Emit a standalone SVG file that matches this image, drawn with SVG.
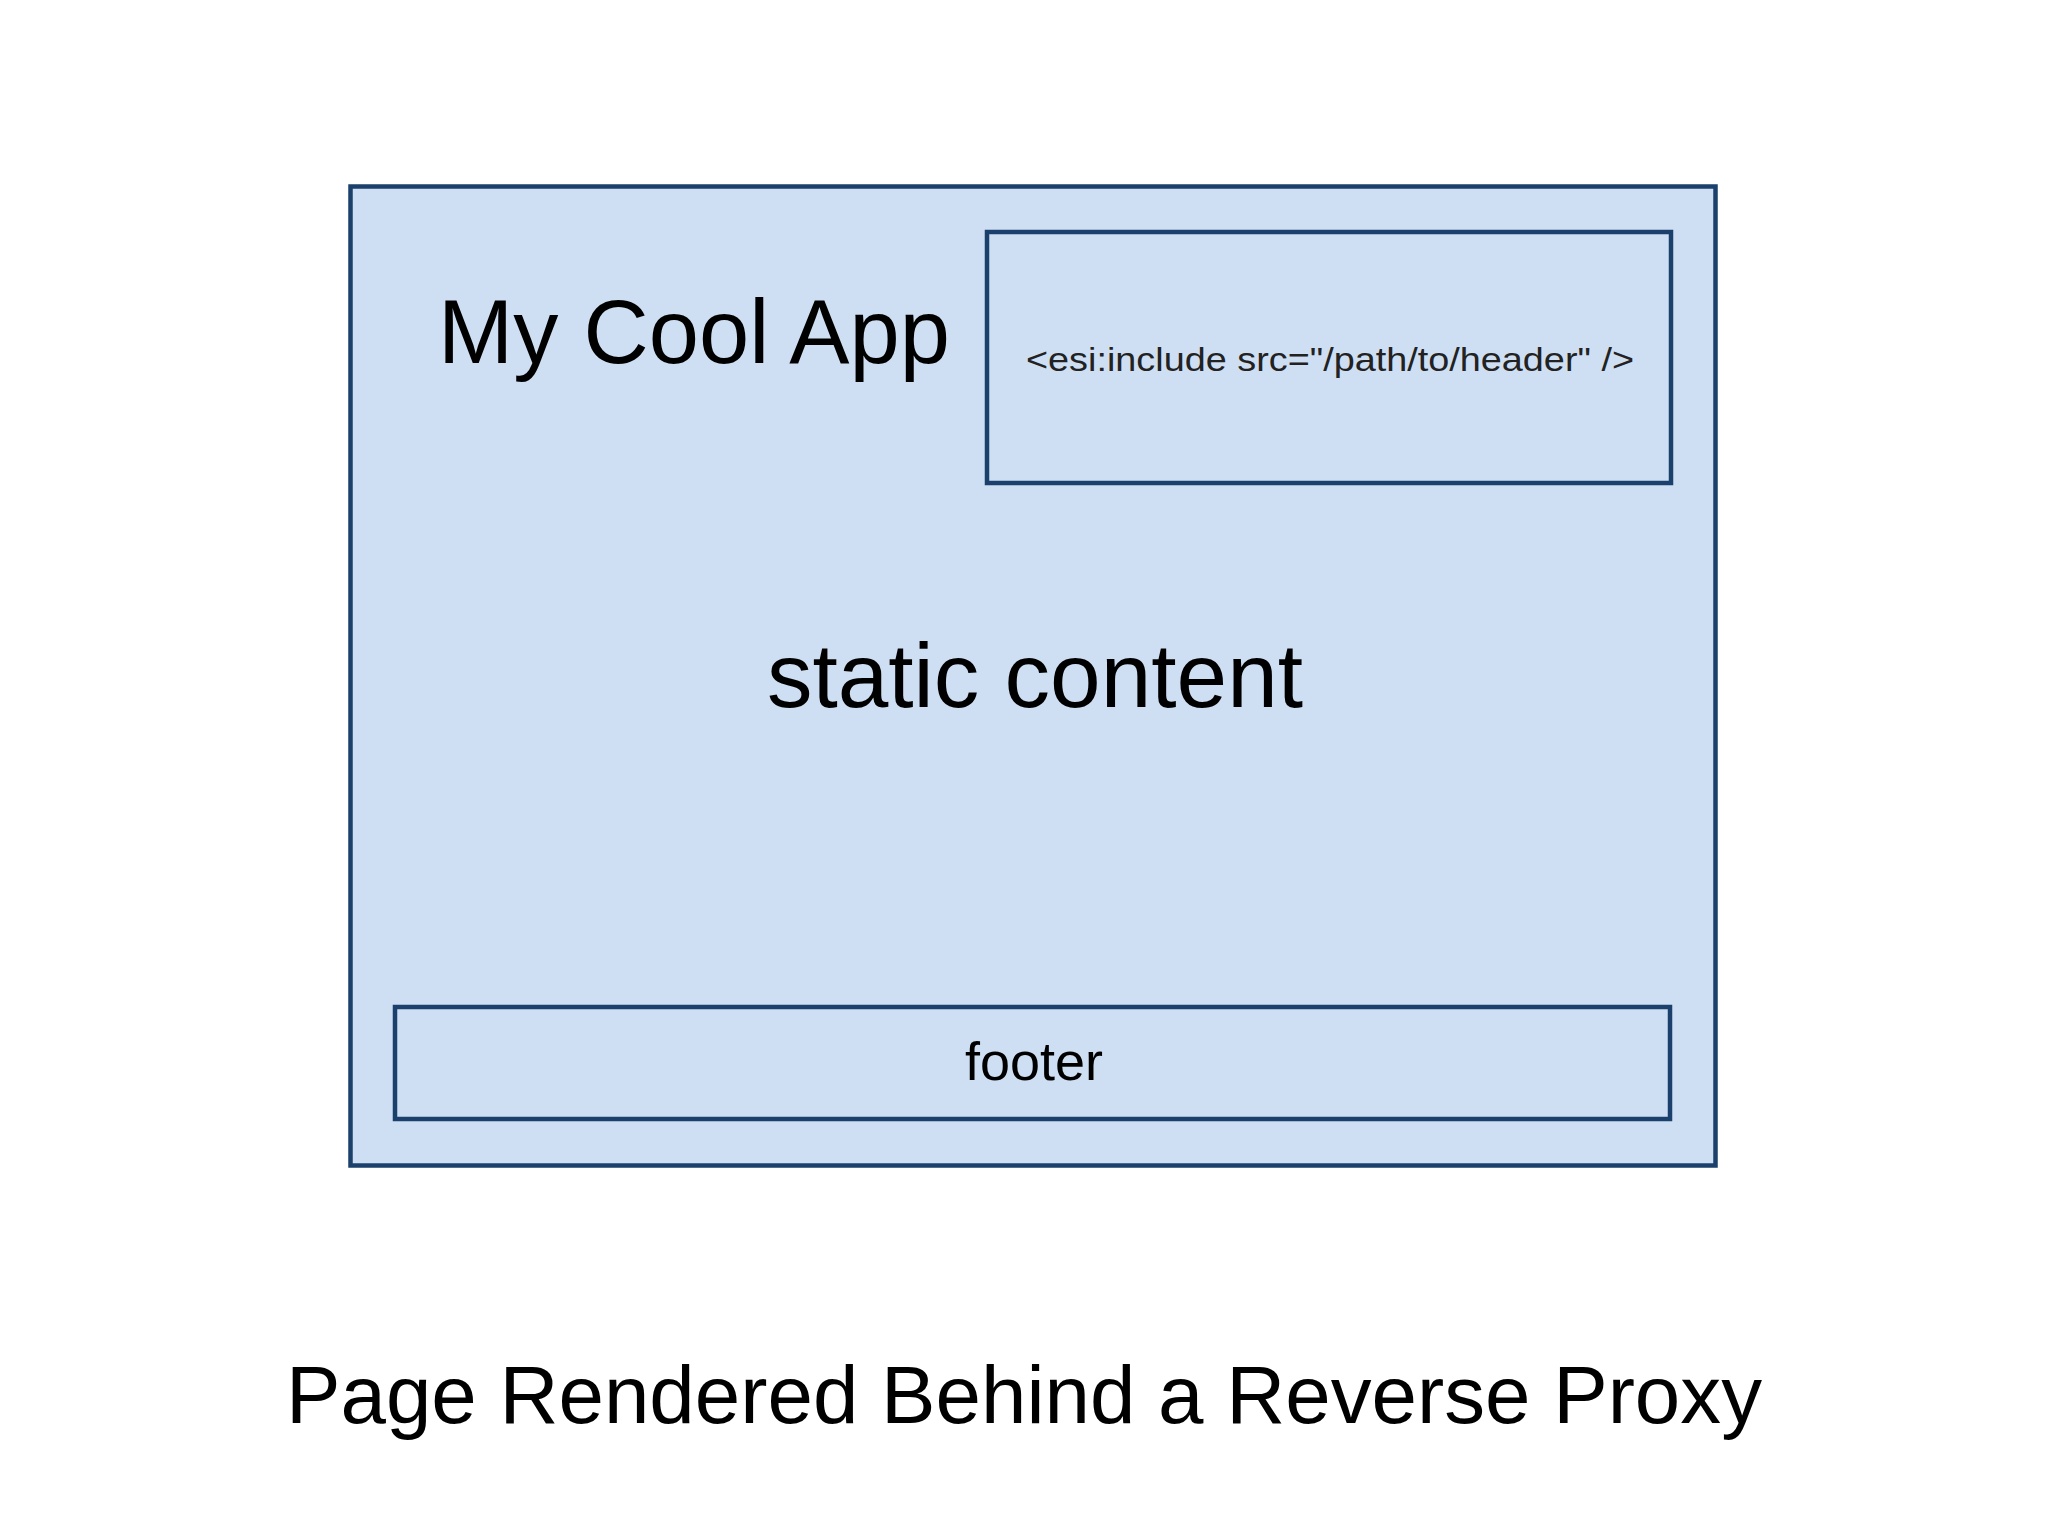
<svg xmlns="http://www.w3.org/2000/svg" width="2048" height="1536" viewBox="0 0 2048 1536">
<style>
.box{fill:#cfdff3;stroke:#1b406c;stroke-width:4.5}
.t{font-family:"Liberation Sans",Arial,sans-serif;fill:#000}
</style>
<rect width="2048" height="1536" fill="#ffffff"/>
<g id="page">
<rect class="box" x="350.5" y="186.5" width="1365" height="979" stroke-width="5"/>
<text class="t" x="438" y="363" font-size="91" textLength="512" lengthAdjust="spacingAndGlyphs">My Cool App</text>
<text class="t" x="767" y="707" font-size="90" textLength="536" lengthAdjust="spacingAndGlyphs">static content</text>
</g>
<g id="header">
<rect class="box" x="987" y="232" width="684" height="251"/>
<text class="t" x="1026" y="371" font-size="33" textLength="608" lengthAdjust="spacingAndGlyphs" style="fill:#222">&lt;esi:include src="/path/to/header" /&gt;</text>
</g>
<g id="footer">
<rect class="box" x="395" y="1007" width="1275" height="112"/>
<text class="t" x="965" y="1080" font-size="53" textLength="138" lengthAdjust="spacingAndGlyphs">footer</text>
</g>
<g id="connectors"/>
<g id="caption">
<text class="t" x="1024" y="1423" font-size="82" text-anchor="middle" textLength="1476" lengthAdjust="spacingAndGlyphs">Page Rendered Behind a Reverse Proxy</text>
</g>
</svg>
